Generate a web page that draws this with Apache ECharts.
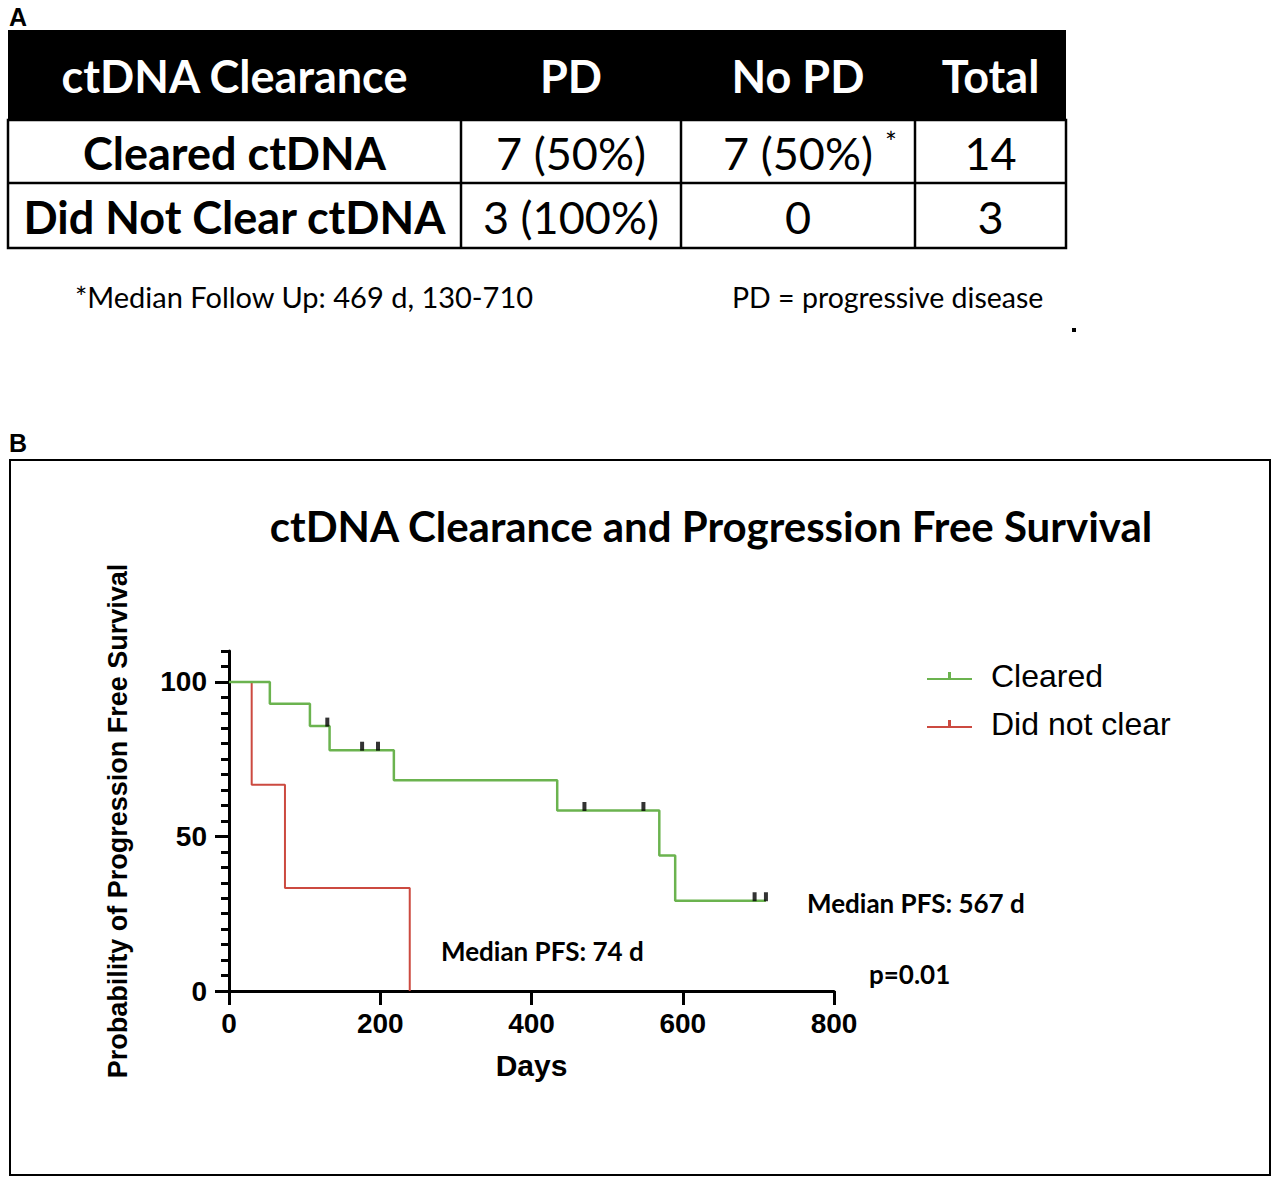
<!DOCTYPE html>
<html>
<head>
    <meta charset="utf-8">
    <title>ctDNA Clearance and PFS</title>
    <script type="text/javascript" src="https://cdn.jsdelivr.net/npm/echarts@6/dist/echarts.min.js"></script>
</head>
<style type="text/css">
    html, body {
        margin: 0;
        padding: 0;
        background: #fff;
    }

    #main {
        width: 1272px;
        height: 1177px;
    }
</style>
<body>
    <div id="main"></div>

    <script type="text/javascript">
        // table (panel A)
        var tableHeader = ['ctDNA Clearance', 'PD', 'No PD', 'Total'];
        var rowLabels = ['Cleared ctDNA', 'Did Not Clear ctDNA'];
        var pdCol = ['7 (50%)', '3 (100%)'];
        var noPdCol = ['7 (50%)', '0'];
        var totalCol = ['14', '3'];
        var footLeft = '*Median Follow Up: 469 d, 130-710';
        var footRight = 'PD = progressive disease';

        // Kaplan-Meier steps (panel B): [day, % PFS]
        var clearedSteps = [[0, 100], [54, 92.9], [107, 85.7], [133, 77.9], [218, 68.2], [434, 58.4], [569, 43.8], [590, 29.2], [710, 29.2]];
        var clearedCensor = [[130, 85.7], [176, 77.9], [197, 77.9], [470, 58.4], [548, 58.4], [695, 29.2], [710, 29.2]];
        var notClearSteps = [[0, 100], [30, 66.7], [74, 33.3], [239, 0]];
        var xTicks = [0, 200, 400, 600, 800];
        var yMajor = [0, 50, 100];

        var calibri = 'Lato, "Open Sans", sans-serif';
        var arial = '"Liberation Sans", Arial, sans-serif';

        var yMinor = [];
        for (var v = 0; v <= 110; v += 5) yMinor.push(v);

        var chart = echarts.init(document.getElementById('main'), null, { renderer: 'svg' });

        // table graphic
        var colX = [8, 461, 681, 915, 1066];
        var rowY = [30, 120, 183, 248];
        var g = [];
        g.push({ type: 'rect', shape: { x: colX[0], y: rowY[0], width: colX[4] - colX[0], height: rowY[1] - rowY[0] }, style: { fill: '#000' } });
        g.push({ type: 'rect', shape: { x: colX[0], y: rowY[1], width: colX[4] - colX[0], height: rowY[3] - rowY[1] }, style: { fill: 'none', stroke: '#000', lineWidth: 2.5 } });
        g.push({ type: 'line', shape: { x1: colX[0], y1: rowY[2], x2: colX[4], y2: rowY[2] }, style: { stroke: '#000', lineWidth: 2.5 } });
        for (var c = 1; c < 4; c++) {
            g.push({ type: 'line', shape: { x1: colX[c], y1: rowY[1], x2: colX[c], y2: rowY[3] }, style: { stroke: '#000', lineWidth: 2.5 } });
        }
        function cellText(txt, c, r, bold, color) {
            return {
                type: 'text', x: (colX[c] + colX[c + 1]) / 2, y: (rowY[r] + rowY[r + 1]) / 2 + 1,
                style: { text: txt, align: 'center', verticalAlign: 'middle', fill: color || '#000',
                    fontFamily: calibri, fontSize: 45, fontWeight: bold ? 'bold' : 'normal' }
            };
        }
        tableHeader.forEach(function(h, i) { g.push(cellText(h, i, 0, true, '#fff')); });
        rowLabels.forEach(function(lab, i) {
            g.push(cellText(lab, 0, i + 1, true));
            g.push(cellText(pdCol[i], 1, i + 1, false));
            g.push(cellText(noPdCol[i], 2, i + 1, false));
            g.push(cellText(totalCol[i], 3, i + 1, false));
        });
        g.push({ type: 'text', x: 891, y: 142, style: { text: '*', align: 'center', verticalAlign: 'middle', fill: '#000', fontFamily: calibri, fontSize: 28 } });
        g.push({ type: 'text', x: 75, y: 296, style: { text: footLeft, align: 'left', verticalAlign: 'middle', fill: '#000', fontFamily: calibri, fontSize: 29 } });
        g.push({ type: 'text', x: 732, y: 297, style: { text: footRight, align: 'left', verticalAlign: 'middle', fill: '#000', fontFamily: calibri, fontSize: 28.5 } });
        g.push({ type: 'rect', shape: { x: 1072, y: 328, width: 4, height: 4 }, style: { fill: '#000' } });

        // panel letters and frame
        g.push({ type: 'text', x: 9, y: 17, style: { text: 'A', align: 'left', verticalAlign: 'middle', fill: '#000', fontFamily: arial, fontSize: 25, fontWeight: 'bold' } });
        g.push({ type: 'text', x: 9, y: 443, style: { text: 'B', align: 'left', verticalAlign: 'middle', fill: '#000', fontFamily: arial, fontSize: 25, fontWeight: 'bold' } });
        g.push({ type: 'rect', shape: { x: 10, y: 460, width: 1260, height: 715 }, style: { fill: 'none', stroke: '#000', lineWidth: 2 }, z: -1 });

        // annotations
        g.push({ type: 'text', x: 807, y: 903, style: { text: 'Median PFS: 567 d', align: 'left', verticalAlign: 'middle', fill: '#000', fontFamily: calibri, fontSize: 26, fontWeight: 'bold' } });
        g.push({ type: 'text', x: 441, y: 951, style: { text: 'Median PFS: 74 d', align: 'left', verticalAlign: 'middle', fill: '#000', fontFamily: calibri, fontSize: 26, fontWeight: 'bold' } });
        g.push({ type: 'text', x: 869, y: 974, style: { text: 'p=0.01', align: 'left', verticalAlign: 'middle', fill: '#000', fontFamily: calibri, fontSize: 26, fontWeight: 'bold' } });

        var option = {
            animation: false,
            backgroundColor: '#fff',
            title: {
                text: 'ctDNA Clearance and Progression Free Survival',
                left: 706,
                top: 500,
                textAlign: 'center',
                textStyle: { fontFamily: calibri, fontSize: 42, fontWeight: 'bold', color: '#000' }
            },
            legend: {
                left: 922,
                top: 655,
                orient: 'vertical',
                itemWidth: 45,
                itemHeight: 12,
                itemGap: 16,
                icon: 'path://M0,9h45v2h-45z M21,3h3v7h-3z',
                data: ['Cleared', 'Did not clear'],
                textStyle: { fontFamily: arial, fontSize: 32, color: '#000', padding: [0, 0, 0, 14] }
            },
            grid: { left: 229, right: 438, top: 651, bottom: 186 },
            xAxis: {
                type: 'value',
                min: 0,
                max: 800,
                interval: 200,
                name: 'Days',
                nameLocation: 'middle',
                nameGap: 59,
                nameTextStyle: { fontFamily: arial, fontSize: 30, fontWeight: 'bold', color: '#000' },
                splitLine: { show: false },
                axisLine: { lineStyle: { color: '#000', width: 3 } },
                axisTick: { length: 14, lineStyle: { color: '#000', width: 3 } },
                axisLabel: { margin: 18, fontFamily: arial, fontSize: 28, fontWeight: 'bold', color: '#000',
                    customValues: xTicks }
            },
            yAxis: [{
                type: 'value',
                min: 0,
                max: 110,
                name: 'Probability of Progression Free Survival',
                nameLocation: 'middle',
                nameGap: 98,
                nameTextStyle: { fontFamily: arial, fontSize: 27, fontWeight: 'bold', color: '#000' },
                splitLine: { show: false },
                axisLine: { lineStyle: { color: '#000', width: 3 } },
                axisTick: { length: 14, lineStyle: { color: '#000', width: 3 }, customValues: yMajor },
                axisLabel: { margin: 22, fontFamily: arial, fontSize: 28, fontWeight: 'bold', color: '#000', customValues: yMajor }
            }, {
                type: 'value',
                min: 0,
                max: 110,
                position: 'left',
                splitLine: { show: false },
                axisLine: { show: false },
                axisTick: { length: 8, lineStyle: { color: '#000', width: 3 }, customValues: yMinor },
                axisLabel: { show: false }
            }],
            series: [{
                name: 'Cleared',
                type: 'line',
                step: 'end',
                data: clearedSteps,
                symbol: 'none',
                color: '#6bb34f',
                lineStyle: { width: 2.5, color: '#6bb34f' },
                z: 3
            }, {
                name: 'Did not clear',
                type: 'line',
                step: 'end',
                data: notClearSteps,
                symbol: 'none',
                color: '#cc4a40',
                lineStyle: { width: 2, color: '#cc4a40' },
                z: 2
            }, {
                name: 'censored',
                type: 'scatter',
                data: clearedCensor,
                symbol: 'rect',
                symbolSize: [4, 9],
                symbolOffset: [0, -4],
                itemStyle: { color: '#000' },
                z: 4
            }],
            graphic: g
        };
        chart.setOption(option);
    </script>
</body>
</html>
